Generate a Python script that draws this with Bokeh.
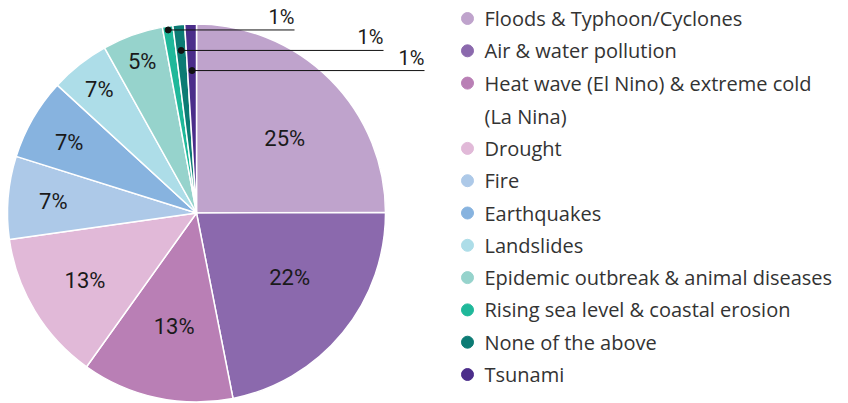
import math
from bokeh.plotting import figure
from bokeh.models import Range1d, ColumnDataSource
from bokeh.core.properties import value
from bokeh.embed import file_html
from bokeh.resources import INLINE

categories = [
    "Floods & Typhoon/Cyclones",
    "Air & water pollution",
    "Heat wave (El Nino) & extreme cold\n(La Nina)",
    "Drought",
    "Fire",
    "Earthquakes",
    "Landslides",
    "Epidemic outbreak & animal diseases",
    "Rising sea level & coastal erosion",
    "None of the above",
    "Tsunami",
]
values = [25.0, 22.0, 13.0, 12.9, 7.1, 7.0, 5.1, 5.2, 0.9, 1.0, 1.0]
labels = ["25%", "22%", "13%", "13%", "7%", "7%", "7%", "5%", "1%", "1%", "1%"]
colors = ["#BFA3CC", "#8B69AD", "#B97FB5", "#E1B9D8", "#ADC9E8", "#87B3DF",
          "#ADDDE8", "#96D3CC", "#1FB89A", "#0C7B74", "#4B2D8A"]

# layout (styling, not data)
W, H = 848, 403
CX, CY, R = 196, 403 - 212.5, 189
inner_r = [0.61, 0.60, 0.61, 0.69, 0.76, 0.77, 0.83, 0.85]
inner_shift_deg = [5, -4.5, -1, 0, 0, -1, 0, 0]   # clockwise shift of label from mid-angle
outer_dot_r = [0.98, 0.864, 0.754]
outer_line_end = [294, 383, 424]

p = figure(width=W, height=H, output_backend="svg", toolbar_location=None,
           x_range=Range1d(0, W), y_range=Range1d(0, H),
           x_axis_location=None, y_axis_location=None, min_border=0)
p.grid.visible = False
p.outline_line_color = None
p.background_fill_color = "white"

total = sum(values)
cum = [0.0]
for v in values:
    cum.append(cum[-1] + v / total)
starts = [math.pi / 2 - c * 2 * math.pi for c in cum[:-1]]
ends = [math.pi / 2 - c * 2 * math.pi for c in cum[1:]]
mids = [(s + e) / 2 for s, e in zip(starts, ends)]

src = ColumnDataSource(dict(start=ends, end=starts, color=colors))
p.wedge(x=CX, y=CY, radius=R, start_angle="start", end_angle="end",
        fill_color="color", line_color="white", line_width=1.5, source=src)

# inside labels
n_in = len(inner_r)
ang = [mids[i] - math.radians(inner_shift_deg[i]) for i in range(n_in)]
lx = [CX + R * inner_r[i] * math.cos(ang[i]) for i in range(n_in)]
ly = [CY + R * inner_r[i] * math.sin(ang[i]) for i in range(n_in)]
p.text(x=lx, y=ly, text=labels[:n_in], text_font=value("Roboto"),
       text_font_size="22px", text_color="#1a1a1a",
       text_align="center", text_baseline="middle")

# outside labels with leader lines
for j, i in enumerate(range(n_in, len(values))):
    dx = CX + R * outer_dot_r[j] * math.cos(mids[i])
    dy = CY + R * outer_dot_r[j] * math.sin(mids[i])
    p.line(x=[dx, outer_line_end[j]], y=[dy, dy], line_color="#111111", line_width=1)
    p.scatter(x=[dx], y=[dy], size=6, color="#111111")
    p.text(x=[outer_line_end[j]], y=[dy + 1], text=[labels[i]],
           text_font=value("Roboto"), text_font_size="20px", text_color="#1a1a1a",
           text_align="right", text_baseline="bottom")

# legend
mx, my = [], []
tx, ty, tt = [], [], []
extra = 0
for i, c in enumerate(categories):
    y_ref = 18 + 32.3 * i + 33 * extra
    mx.append(467)
    my.append(403 - y_ref)
    for k, line in enumerate(c.split("\n")):
        tx.append(484)
        ty.append(403 - (y_ref + 33 * k))
        tt.append(line)
    extra += c.count("\n")
p.scatter(x=mx, y=my, size=12, color=colors)
p.text(x=tx, y=ty, text=tt, text_font=value("Open Sans"), text_font_size="20px",
       text_color="#333333", text_align="left", text_baseline="middle")

open("out.html", "w").write(file_html(p, INLINE))
